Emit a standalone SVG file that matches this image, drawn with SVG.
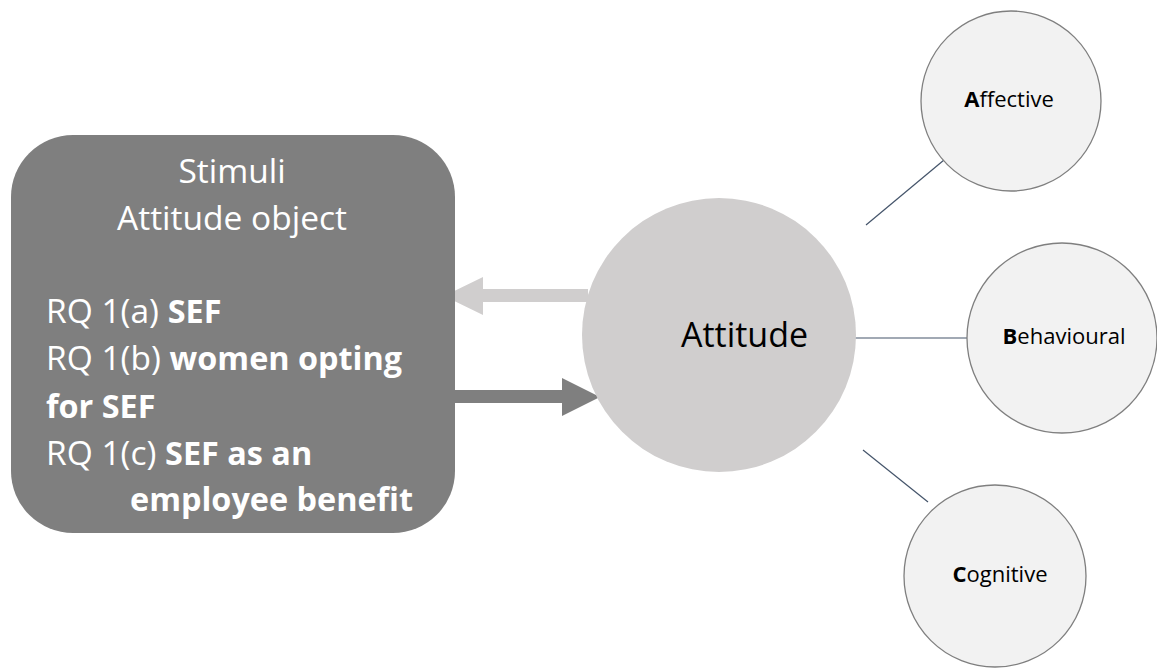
<svg xmlns="http://www.w3.org/2000/svg" width="1157" height="671" viewBox="0 0 1157 671">
  <style>
    .box { fill: #7f7f7f; }
    .hub { fill: #d0cece; }
    .facet { fill: #f2f2f2; stroke: #7f7f7f; stroke-width: 1.3; }
    .link { stroke: #44546a; stroke-width: 1.2; fill: none; }
    .boxtxt { font-family: "Open Sans", "Liberation Sans", sans-serif; font-size: 33.5px; fill: #ffffff; }
    .b { font-weight: bold; font-size: 32.4px; }
    .hubtxt { font-family: "Open Sans", "Liberation Sans", sans-serif; font-size: 34px; fill: #000000; }
    .facettxt { font-family: "Open Sans", "Liberation Sans", sans-serif; font-size: 22px; fill: #000000; }
    .initial { font-weight: bold; }
  </style>
  <rect width="1157" height="671" fill="#ffffff"/>

  <!-- connectors: arrows between object and attitude, lines to components -->
  <g id="connectors">
    <polygon fill="#d0cece" points="588,289 483,289 483,277 444,296 483,315 483,302 588,302"/>
    <polygon fill="#7f7f7f" points="455,390 562,390 562,378 600,397 562,416 562,403 455,403"/>
    <line class="link" x1="866" y1="225" x2="944" y2="160"/>
    <line class="link" x1="855" y1="338" x2="967" y2="338"/>
    <line class="link" x1="863" y1="450" x2="928" y2="502"/>
  </g>

  <g id="stimuli">
    <rect class="box" x="11" y="135" width="444" height="398" rx="62" ry="62"/>
    <text class="boxtxt" x="232" y="183" text-anchor="middle">Stimuli</text>
    <text class="boxtxt" x="232" y="230" text-anchor="middle">Attitude object</text>
    <text class="boxtxt" x="46" y="323">RQ 1(a) <tspan class="b">SEF</tspan></text>
    <text class="boxtxt" x="46" y="370">RQ 1(b) <tspan class="b">women opting</tspan></text>
    <text class="boxtxt b" x="46" y="418">for SEF</text>
    <text class="boxtxt" x="46" y="465">RQ 1(c) <tspan class="b">SEF as an</tspan></text>
    <text class="boxtxt b" x="130" y="511">employee benefit</text>
  </g>

  <g id="attitude">
    <circle class="hub" cx="719" cy="335" r="137"/>
    <text class="hubtxt" x="744.5" y="347" text-anchor="middle">Attitude</text>
  </g>

  <g id="affective">
    <circle class="facet" cx="1011" cy="101" r="90"/>
    <text class="facettxt" x="1009" y="107" text-anchor="middle"><tspan class="initial">A</tspan>ffective</text>
  </g>

  <g id="behavioural">
    <circle class="facet" cx="1062" cy="338" r="95"/>
    <text class="facettxt" x="1064" y="344" text-anchor="middle"><tspan class="initial">B</tspan>ehavioural</text>
  </g>

  <g id="cognitive">
    <circle class="facet" cx="995" cy="576" r="91"/>
    <text class="facettxt" x="1000" y="582" text-anchor="middle"><tspan class="initial">C</tspan>ognitive</text>
  </g>
</svg>
